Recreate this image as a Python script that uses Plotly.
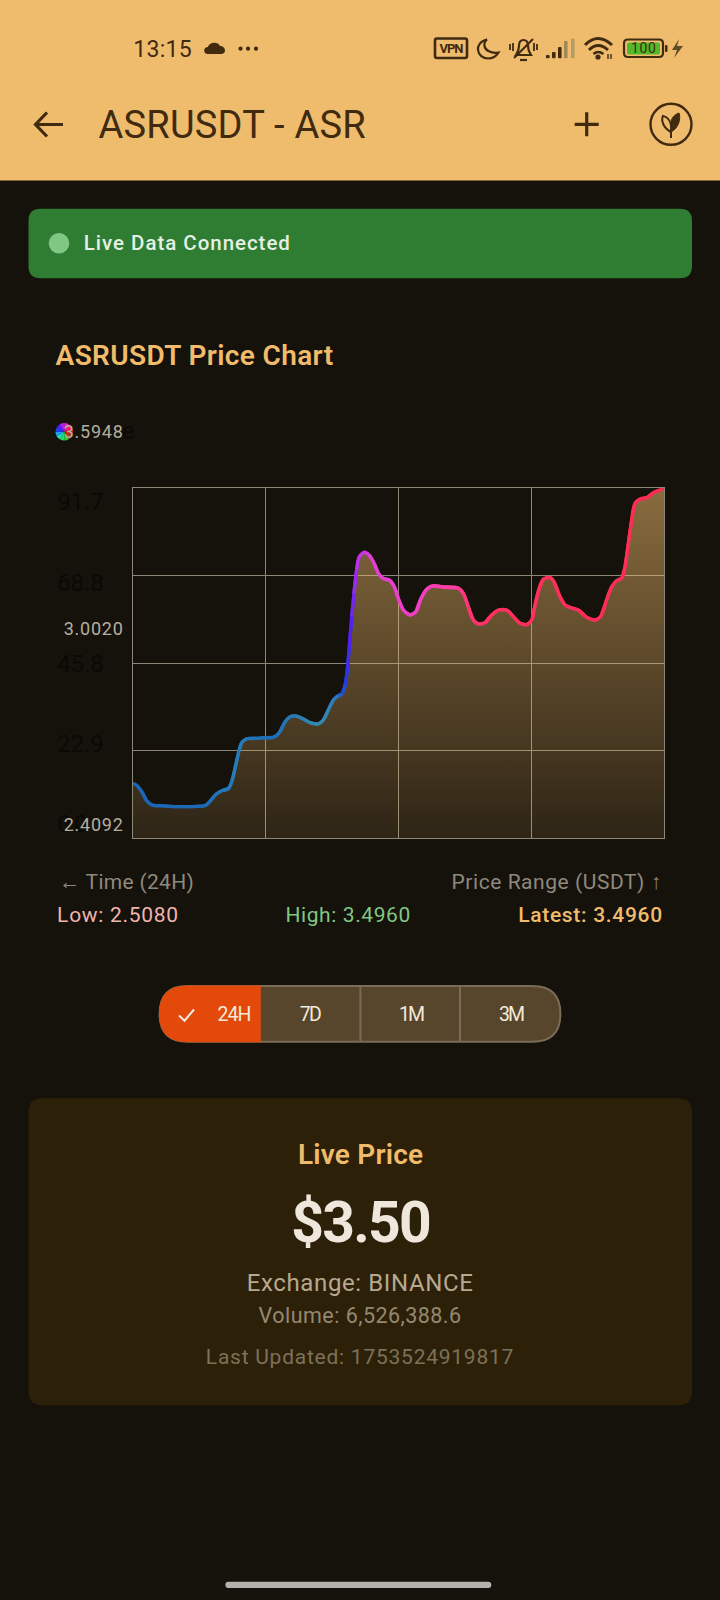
import re, json
import plotly.graph_objects as go

# ---------- data ----------
hours = [0,.19,.42,.64,.87,1.24,1.69,2.29,2.90,3.27,3.50,3.77,4.03,4.33,4.48,4.63,4.78,4.93,5.16,5.61,
         6.06,6.36,6.53,6.66,6.89,7.11,7.41,7.71,8.02,8.39,8.62,8.84,9.07,9.29,9.45,9.60,9.70,9.79,9.90,10.0,
         10.12,10.24,10.47,10.69,10.91,11.10,11.33,11.60,11.81,12.0,12.23,12.53,12.80,13.01,13.25,13.51,14.03,14.71,14.94,15.16,
         15.39,15.62,15.92,16.22,16.52,16.90,17.2,17.5,17.8,18.03,18.13,18.32,18.55,18.85,19.03,19.27,19.53,19.83,20.13,20.51,
         20.88,21.14,21.38,21.64,21.86,22.09,22.24,22.39,22.54,22.69,22.92,23.22,23.52,24]
index_values = [14.4,13.9,12.2,9.85,8.72,8.54,8.38,8.28,8.38,8.54,9.69,11.53,12.47,13.0,14.83,18.34,22.27,25.05,26.1,26.2,
         26.36,26.46,27.06,27.93,30.55,31.86,32.04,31.26,30.29,29.95,31.0,33.6,36.23,37.36,37.73,40.16,44.1,50.2,58.06,64.19,
         70.3,73.78,75.0,74.2,72.05,69.43,68.02,67.67,66.1,62.88,59.81,58.5,59.37,62.62,65.05,66.1,65.84,65.58,64.19,60.68,
         57.19,56.15,56.49,58.5,59.81,59.81,58.06,56.33,55.96,57.19,59.81,64.6,67.86,68.38,67.23,63.74,61.12,60.34,59.81,57.9,
         57.19,58.06,61.99,65.92,67.49,68.12,71.16,77.29,83.39,87.77,88.9,89.24,90.55,91.7]
x_grid = [0, 6, 12, 18, 24]
y_grid = [0, 22.9, 45.8, 68.8, 91.7]
y_labels = ["0.0", "22.9", "45.8", "68.8", "91.7"]
price_labels = ["3.5948", "3.0020", "2.4092"]
periods = ["24H", "7D", "1M", "3M"]
wheel_share = [1] * 12

# ---------- palette ----------
BG = "#15110b"; BAR = "#efbc6d"; INK = "#402a10"; GOLD = "#f0bc6c"
GRID = "#8e8676"; LABEL = "#b5ae9f"
line_stops = [(0, (26,100,182)), (3.2, (28,106,182)), (4.6, (40,124,184)), (6.2, (28,108,186)), (8.4, (52,140,170)),
              (9.2, (40,120,196)), (9.6, (32,60,224)), (9.85, (84,32,240)), (10.15, (184,48,232)), (10.8, (226,62,214)),
              (13.0, (242,62,196)), (14.4, (255,60,160)), (15.2, (255,52,112)), (16.5, (255,48,94)), (24, (252,44,82))]
wheel_colors = ["#f020e0","#ff2080","#f02030","#c82020","#b05010","#30d030","#20e060","#20e0c0","#20a0f0","#2040ff","#5020ff","#b020ff"]

W, H = 720, 1600
def px(x): return x / W
def py(y): return 1 - y / H

def line_color(h):
    for (a, ca), (b, cb) in zip(line_stops, line_stops[1:]):
        if a <= h <= b:
            t = (h - a) / (b - a)
            return "rgb(%d,%d,%d)" % tuple(round(p + (q - p) * t) for p, q in zip(ca, cb))
    return "rgb(252,44,82)"

def P(d):
    """pixel path -> paper path"""
    out, is_x = [], True
    def sub(m):
        nonlocal is_x
        v = float(m.group(0))
        r = px(v) if is_x else py(v)
        is_x = not is_x
        return "%.6f" % r
    return re.sub(r"-?\d+\.?\d*", sub, d)

shapes = []
def path(d, fill=None, stroke=None, width=0):
    s = dict(type="path", xref="paper", yref="paper", path=P(d), layer="below",
             line=dict(color=stroke or "rgba(0,0,0,0)", width=width))
    if fill: s["fillcolor"] = fill
    shapes.append(s)
def rrect(x0, y0, x1, y1, r, **k):
    path(f"M{x0+r} {y0} L{x1-r} {y0} Q{x1} {y0} {x1} {y0+r} L{x1} {y1-r} Q{x1} {y1} {x1-r} {y1} "
         f"L{x0+r} {y1} Q{x0} {y1} {x0} {y1-r} L{x0} {y0+r} Q{x0} {y0} {x0+r} {y0} Z", **k)
def circle(cx, cy, r, fill=None, stroke=None, width=0):
    s = dict(type="circle", xref="paper", yref="paper", x0=px(cx-r), x1=px(cx+r), y0=py(cy+r), y1=py(cy-r),
             layer="below", line=dict(color=stroke or "rgba(0,0,0,0)", width=width))
    if fill: s["fillcolor"] = fill
    shapes.append(s)

ann = []; widths = {}
def T(text, x0, x1, y, size, color, weight=400):
    ann.append(dict(text=text, xref="paper", yref="paper", x=px((x0+x1)/2), y=py(y), xanchor="center", yanchor="middle",
                    showarrow=False, font=dict(family="Roboto", size=size, color=color, weight=weight)))
    widths[text] = x1 - x0

# ---------- app chrome ----------
path("M0 0 L720 0 L720 180.5 L0 180.5 Z", fill=BAR)
T("13:15", 133, 191.5, 49.5, 23, INK)
path("M208 54 C203 54 203 47 208 47 C209 42 218 41 220 46 C226 46 227 54 221 54 Z", fill=INK)
for cx in (240.5, 248, 256): circle(cx, 48.7, 2.1, fill=INK)
rrect(435, 38.5, 467, 58, 2, stroke=INK, width=2.6)
T("VPN", 439, 463, 48.5, 13, INK, 700)
path("M487 39.5 C480 41 477.5 46 478 50 C478.5 55 483 58.5 488 58.5 C492.5 58.5 496.5 56 498.5 52.5 C491 54 485 50 484.5 46 C484 43 485 41 487 39.5 Z", stroke=INK, width=2.2)
path("M516 55 L531 55 C529 52 528 50 528 46 C528 42 526 40 523.5 40 C521 40 519 42 519 46 C519 50 518 52 516 55 Z", stroke=INK, width=2.2)
path("M520 60 L527 60", stroke=INK, width=2.2)
path("M514 58 L533 39", stroke=INK, width=2.2)
for d in ("M510 44 L510 50", "M513 43 L513 51", "M534 43 L534 51", "M537 44 L537 50"):
    path(d, stroke=INK, width=1.8)
for x0, top, col in ((546, 55, INK), (552, 52, INK), (558, 47, INK), (564, 41, "#a08858"), (571, 38.5, "#b49a64")):
    rrect(x0, top, x0 + 3.6, 58.3, 1, fill=col)
path("M585 45 Q598 32 612 45", stroke=INK, width=3)
path("M589 50 Q598 41 608 50", stroke=INK, width=3)
path("M593.5 54 Q598 50 603.5 54", stroke=INK, width=2.6)
circle(598, 57, 2.6, fill=INK)
path("M608 54 L608 59 M611 54 L611 59", stroke=INK, width=1.4)
rrect(624, 39.5, 663, 57, 4, stroke=INK, width=2.2)
rrect(627, 42.5, 660, 54.5, 2, fill="#53b82a")
T("100", 631, 656, 48.5, 14, INK)
rrect(665, 45, 667.5, 52, 1, fill=INK)
path("M679 39 L672 50 L677 50 L674 58 L683 46 L677 46 Z", fill="#5e4a24")

path("M36 124.5 L63 124.5 M47 112.5 L35.5 124.5 L47 136.5", stroke=INK, width=3.2)
T("ASRUSDT - ASR", 98.7, 366, 125, 38, INK)
path("M574.7 124.3 L598.7 124.3 M586.7 112.3 L586.7 136.3", stroke=INK, width=3.2)
circle(671, 124.3, 20.5, stroke=INK, width=2.4)
path("M671 132 C663 128 661 120 663 116 C668 117 672 122 671 132 Z", stroke=INK, width=2)
path("M671 132 C679 128 681 118 679 113 C673 115 669 120 671 132 Z", fill=INK, stroke=INK, width=1)
path("M671 132 L671 138", stroke=INK, width=2)

rrect(28.5, 208.7, 692, 278.3, 12, fill="#2e7d32")
circle(59, 243.3, 10.3, fill="#81c784")
T("Live Data Connected", 84.5, 290.6, 243, 20.5, "#e6efe4", 500)

T("ASRUSDT Price Chart", 56, 333.5, 355, 28, GOLD, 600)

# hidden dark labels that sit under the light ones
dark_y = [824, 744, 664, 582.7, 501.7]
for lab, y, xr in zip(y_labels, dark_y, [86.7, 103.3, 103.3, 103.3, 103.3]):
    T(lab, 56.7, xr, y, 24, "#0b0906")
T("e", 122.7, 135, 431, 24, "#0b0906")
for lab, y, x0 in zip(price_labels, [431.7, 628, 824], [63.5, 63.5, 63.5]):
    T(lab, x0, 122.7, y, 18, LABEL)

T("← Time (24H)", 59.6, 194.3, 881.5, 21, "#8f897d")
T("Price Range (USDT) ↑", 451.4, 661, 881.5, 21, "#8f897d")
T("Low: 2.5080", 57, 178, 915.5, 21, "#f0b5ab")
T("High: 3.4960", 285.7, 410.6, 915.5, 21, "#81c784")
T("Latest: 3.4960", 518.4, 662.4, 915.5, 21, GOLD, 500)

# period selector
rrect(159.6, 986, 560.4, 1041.7, 27.8, fill="#57452c", stroke="#7a6d58", width=2)
path("M260.8 985.5 L187.6 985.5 Q159 985.5 159 1013.8 Q159 1042.2 187.6 1042.2 L260.8 1042.2 Z", fill="#e2490b")
path("M360.4 986 L360.4 1041.7 M460 986 L460 1041.7", stroke="#7a6d58", width=2)
path("M179 1015.5 L184.5 1020.7 L194 1009.5", stroke="#f5ece4", width=2)
for lab, cx, w in zip(periods, [233.5, 310, 410.6, 510.6], [34, 22, 26, 26]):
    T(lab, cx - w/2, cx + w/2, 1014, 19.5, "#f3ead8")

# live price card
rrect(28.5, 1098.3, 692, 1405.3, 14, fill="#2d2009")
T("Live Price", 297.5, 422.5, 1154, 28, GOLD, 600)
T("$3.50", 290, 430.5, 1222.5, 57, "#efe6dc", 700)
T("Exchange: BINANCE", 247, 473, 1282.5, 24, "#b5a98f")
T("Volume: 6,526,388.6", 258.5, 461, 1315, 21.5, "#94896f")
T("Last Updated: 1753524919817", 206.5, 514, 1356.5, 21, "#7c7258")
rrect(225.4, 1581.7, 491.3, 1588, 3, fill="#b5b2ad")

# ---------- chart ----------
fig = go.Figure()
fig.add_trace(go.Scatter(x=hours, y=index_values, mode="lines", line=dict(width=0, shape="spline"),
                         fill="tozeroy", fillcolor="rgba(240,188,108,.3)",
                         fillgradient=dict(type="vertical", colorscale=[[0, "rgba(240,188,108,.115)"], [1, "rgba(240,188,108,.53)"]]),
                         hoverinfo="skip", showlegend=False, cliponaxis=False))
for i in range(len(hours) - 1):
    j = min(i + 3, len(hours))
    fig.add_trace(go.Scatter(x=hours[i:j], y=index_values[i:j], mode="lines",
                             line=dict(width=3.3, shape="spline", color=line_color((hours[i] + hours[i+1]) / 2)),
                             hoverinfo="skip", showlegend=False, cliponaxis=False))
fig.add_trace(go.Pie(values=wheel_share, marker=dict(colors=wheel_colors, line=dict(width=0)), sort=False,
                     direction="clockwise", rotation=0, textinfo="none", hoverinfo="skip", showlegend=False,
                     domain=dict(x=[px(55.5), px(73)], y=[py(440.5), py(423)])))

axis = dict(showgrid=True, gridcolor=GRID, gridwidth=1, zeroline=False, showticklabels=False, ticks="",
            showline=True, linecolor=GRID, linewidth=1, mirror=True, fixedrange=True)
fig.update_xaxes(range=[0, 24], tickvals=x_grid, domain=[px(132.5), px(664)], **axis)
fig.update_yaxes(range=[0, 91.7], tickvals=y_grid, domain=[py(838.3), py(488.3)], **axis)
fig.update_layout(width=W, height=H, margin=dict(l=0, r=0, t=0, b=0, pad=0), paper_bgcolor=BG, plot_bgcolor="rgba(0,0,0,0)",
                  shapes=shapes, annotations=ann, showlegend=False, font=dict(family="Roboto"))

post = """
document.body.style.margin='0';document.body.style.background='%s';
var W=%s;
document.querySelectorAll('.annotation-text').forEach(function(t){
  var w=W[t.textContent]; if(!w) return;
  var n=t.textContent.length, l=t.getComputedTextLength();
  if(n>1) t.style.letterSpacing=((w-l)/(n-1)).toFixed(3)+'px';
});
""" % (BG, json.dumps(widths))
fig.write_html("out.html", post_script=post, config=dict(displayModeBar=False))
